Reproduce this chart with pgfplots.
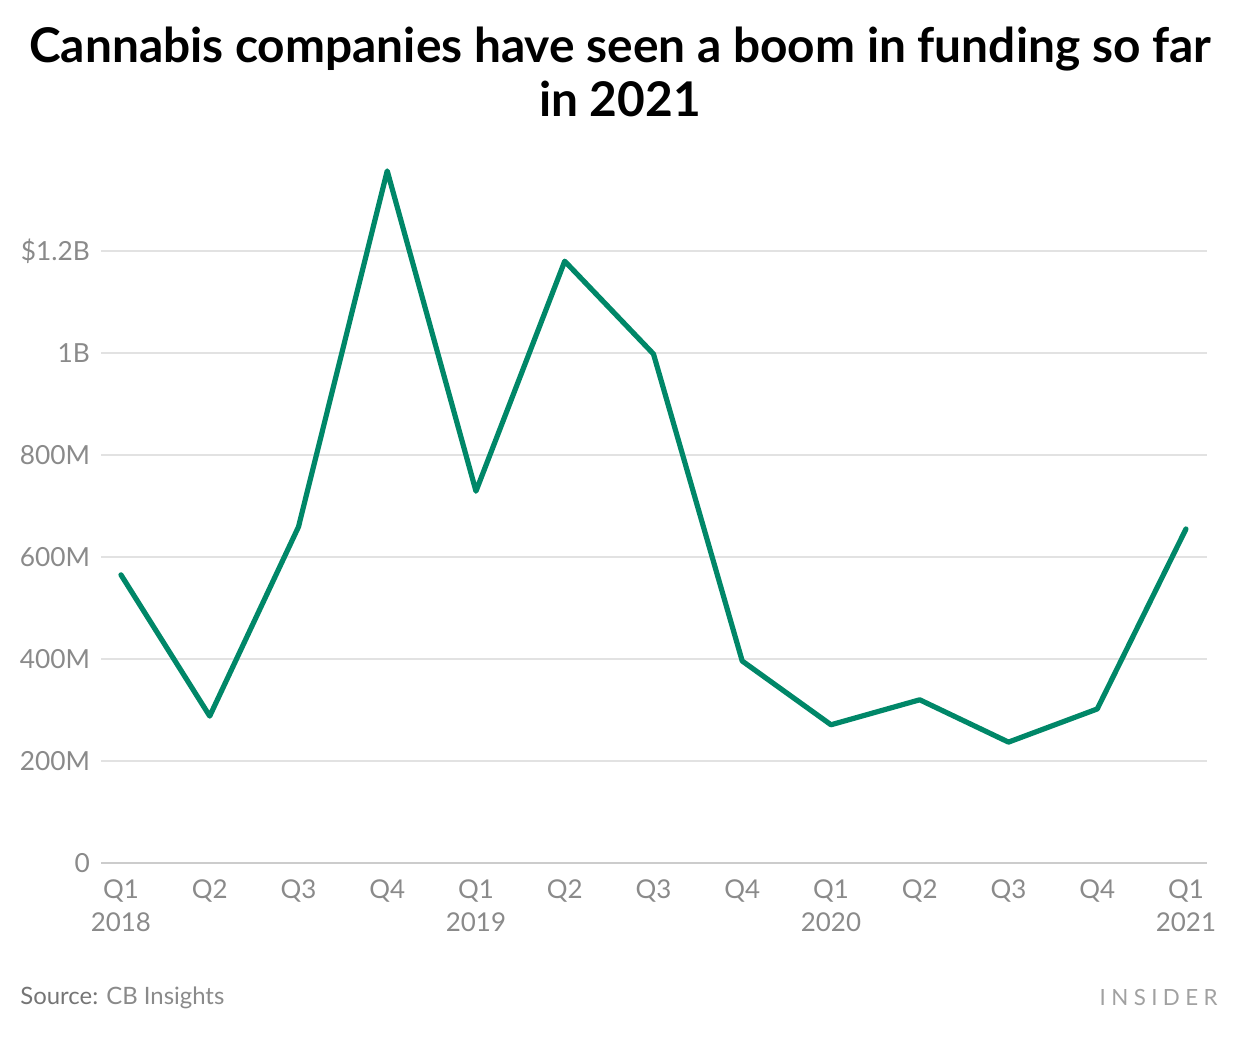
\documentclass[border=0pt]{standalone}
\usepackage{pgfplots}
\pgfplotsset{compat=1.18}
\usepackage{fontspec}
\setmainfont{Lato}
\definecolor{linegreen}{RGB}{0,135,104}
\definecolor{tickgray}{RGB}{138,138,138}
\definecolor{gridgray}{RGB}{226,226,226}
\definecolor{axisgray}{RGB}{204,204,204}
\begin{document}
\begin{tikzpicture}[x=1bp,y=1bp]
\useasboundingbox (0,0) rectangle (620,520);
\node[font=\fontsize{24}{27.5}\selectfont\bfseries, align=center, anchor=center] at (310,484)
  {Cannabis companies have seen a boom in funding so far\\in 2021};
\begin{axis}[
  at={(50.5bp,88.5bp)}, anchor=south west,
  width=553bp, height=357bp, scale only axis,
  xmin=-0.225, xmax=12.237,
  ymin=0, ymax=1400,
  axis line style={draw=none},
  axis x line*=bottom,
  ytick={0,200,400,600,800,1000,1200},
  yticklabels={0,200M,400M,600M,800M,1B,\$1.2B},
  xtick={0,...,12},
  xticklabels={Q1\\2018,Q2,Q3,Q4,Q1\\2019,Q2,Q3,Q4,Q1\\2020,Q2,Q3,Q4,Q1\\2021},
  x tick label style={align=center, font=\fontsize{13}{16.5}\selectfont, text=tickgray, anchor=north, yshift=-5bp},
  y tick label style={font=\fontsize{13.2}{15}\selectfont, text=tickgray, anchor=east, xshift=-2bp},
  major tick length=0pt,
  ymajorgrids,
  grid style={gridgray, line width=0.6bp},
  clip=false,
]
\addplot[linegreen, line width=2.6bp, line join=round, line cap=round] coordinates {
(0,565) (1,288) (2,659) (3,1357) (4,729) (5,1180) (6,998) (7,396) (8,271) (9,320) (10,237) (11,302) (12,655)
};
\draw[axisgray, line width=0.8bp] (axis cs:-0.225,0) -- (axis cs:12.237,0);
\end{axis}
\node[anchor=west, inner sep=0pt, font=\fontsize{12}{14}\selectfont] at (10,21) {\textcolor{tickgray!85!black}{Source:} \textcolor{tickgray}{CB Insights}};
\node[anchor=east, inner sep=0pt, font=\fontsize{11.2}{14}\selectfont, text=tickgray!80] at (609,21) {I\hspace{2.7bp}N\hspace{2.7bp}S\hspace{2.7bp}I\hspace{2.7bp}D\hspace{2.7bp}E\hspace{2.7bp}R};
\end{tikzpicture}
\end{document}
